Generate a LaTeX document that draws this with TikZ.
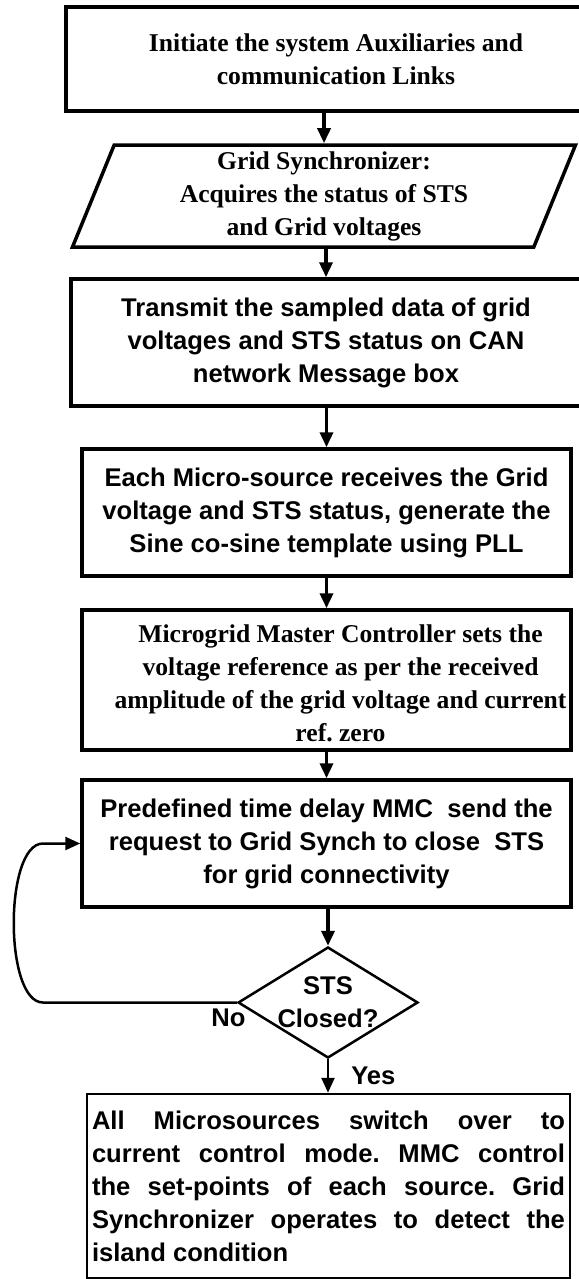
\documentclass[tikz,border=0pt]{standalone}
\usepackage{fontspec}
\setmainfont{Liberation Serif}
\newfontfamily\arialfont{Liberation Sans}
\usetikzlibrary{shapes.geometric, arrows.meta, positioning, calc}
\frenchspacing

\begin{document}
\begin{tikzpicture}[x=1pt, y=-1pt,
  serifbox/.style={draw, rectangle, line width=3.5pt, align=center, inner sep=0pt, font=\fontsize{25.6}{33}\selectfont\bfseries},
  sansbox/.style={draw, rectangle, line width=3.5pt, align=center, inner sep=0pt, font=\arialfont\fontsize{25.6}{33}\selectfont\bfseries},
  lbl/.style={inner sep=0pt, font=\arialfont\fontsize{25.6}{33}\selectfont\bfseries},
  flow/.style={-{Triangle[length=15pt, width=13pt]}, line width=3.5pt},
  thinflow/.style={-{Triangle[length=15pt, width=13pt]}, line width=2.5pt}]
\useasboundingbox (0,0) rectangle (578,1279);

% Start
\node[serifbox, minimum width=540pt, minimum height=104pt] (init) at (336,59) {Initiate the system Auxiliaries and\\communication Links};

% Grid synchronizer input
\node[serifbox, trapezium, trapezium left angle=65, trapezium right angle=115, trapezium stretches body, minimum width=503pt, minimum height=102pt] (sync) at (324,196) {Grid Synchronizer:\\Acquires the status of STS\\and Grid voltages};

% CAN transmit
\node[sansbox, minimum width=510pt, minimum height=127pt] (trans) at (326,342.5) {Transmit the sampled data of grid\\voltages and STS status on CAN\\network Message box};

% Micro-source PLL
\node[sansbox, minimum width=489pt, minimum height=127pt] (recv) at (326.5,512.5) {Each Micro-source receives the Grid\\voltage and STS status, generate the\\Sine co-sine template using PLL};

% Master controller
\node[serifbox, minimum width=489pt, minimum height=140pt] (mmc) at (326.5,680) {};
\node[serifbox, draw=none] (mmctext) at ($(mmc.center)+(14,3)$) {Microgrid Master Controller sets the\\voltage reference as per the received\\amplitude of the grid voltage and current\\ref. zero};

% STS request
\node[sansbox, minimum width=489pt, minimum height=127pt] (req) at (326.5,843.5) {Predefined time delay MMC\ \ send the\\request to Grid Synch to close\ \ STS\\for grid connectivity};

% Decision
\node[draw, diamond, line width=2.5pt, shape aspect=1.62, inner sep=-3pt, minimum width=180pt, minimum height=111pt, align=center, font=\arialfont\fontsize{25.6}{33}\selectfont\bfseries] (dec) at (328,1002.5) {STS\\Closed?};

% Grid connected mode
\node[draw, rectangle, line width=2.5pt, minimum width=483pt, minimum height=184pt, inner xsep=5pt, inner ysep=0pt, text width=473pt, align=justify, font=\arialfont\fontsize{25.6}{33}\selectfont\bfseries] (final) at (328.5,1186) {All Microsources switch over to\linebreak current control mode. MMC control\linebreak the set-points of each source. Grid\linebreak Synchronizer operates to detect the\linebreak island condition};

% Connections
\draw[flow] (init.south -| sync.north) -- (sync.north);
\draw[flow] (sync.south -| trans.north) -- (trans.north);
\draw[flow] (trans.south -| recv.north) -- (recv.north);
\draw[flow] (recv.south) -- (mmc.north);
\draw[flow] (mmc.south) -- (req.north);
\draw[flow] (req.south -| dec.north) -- (dec.north);
\draw[thinflow] (dec.south) -- node[lbl, right, xshift=22pt] (yes) {Yes} (dec.south |- final.north);

% Retry loop
\coordinate (loopx) at (43,0);
\draw[thinflow] (dec.west) -- (dec.west -| loopx) .. controls +(-39,0) and +(-39,0) .. (req.west -| loopx) -- (req.west);
\node[lbl, anchor=north east] (no) at ($(dec.west)+(9,6)$) {No};
\end{tikzpicture}
\end{document}
